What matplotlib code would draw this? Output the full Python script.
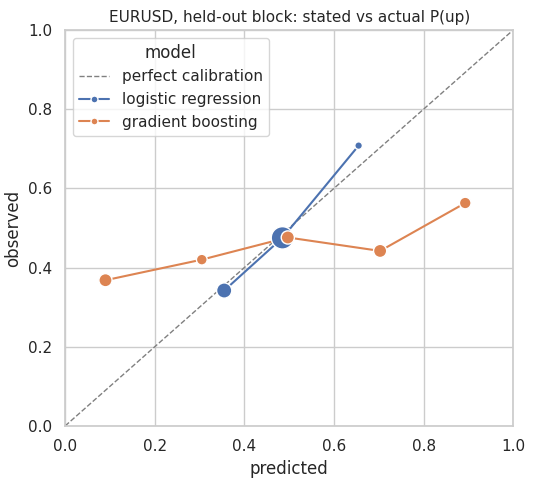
import matplotlib
matplotlib.use("Agg")
import matplotlib.pyplot as plt
import seaborn as sns

sns.set_theme(style="whitegrid")

lr_pred = [0.355, 0.485, 0.655]
lr_obs = [0.342, 0.475, 0.708]
lr_size = [120, 260, 30]
gb_pred = [0.09, 0.305, 0.497, 0.703, 0.893]
gb_obs = [0.368, 0.420, 0.476, 0.442, 0.563]
gb_size = [90, 60, 90, 90, 70]

blue, orange = sns.color_palette()[0], sns.color_palette()[1]
fig, ax = plt.subplots(figsize=(5.34, 4.84), dpi=100)
ax.plot([0, 1], [0, 1], ls="--", color="gray", lw=1, label="perfect calibration")
ax.plot(lr_pred, lr_obs, color=blue, lw=1.5)
ax.scatter(lr_pred, lr_obs, s=lr_size, color=blue, edgecolor="white", lw=1, zorder=3)
ax.plot(gb_pred, gb_obs, color=orange, lw=1.5)
ax.scatter(gb_pred, gb_obs, s=gb_size, color=orange, edgecolor="white", lw=1, zorder=3)
ax.plot([], [], color=blue, marker="o", ms=5, mec="white", label="logistic regression")
ax.plot([], [], color=orange, marker="o", ms=5, mec="white", label="gradient boosting")
ax.set_xlim(0, 1); ax.set_ylim(0, 1)
ax.set_xlabel("predicted"); ax.set_ylabel("observed")
ax.set_title("EURUSD, held-out block: stated vs actual P(up)", fontsize=11)
ax.legend(title="model", loc="upper left")
fig.subplots_adjust(left=0.122, right=0.961, top=0.938, bottom=0.12)
fig.savefig("out.png", dpi=100)
